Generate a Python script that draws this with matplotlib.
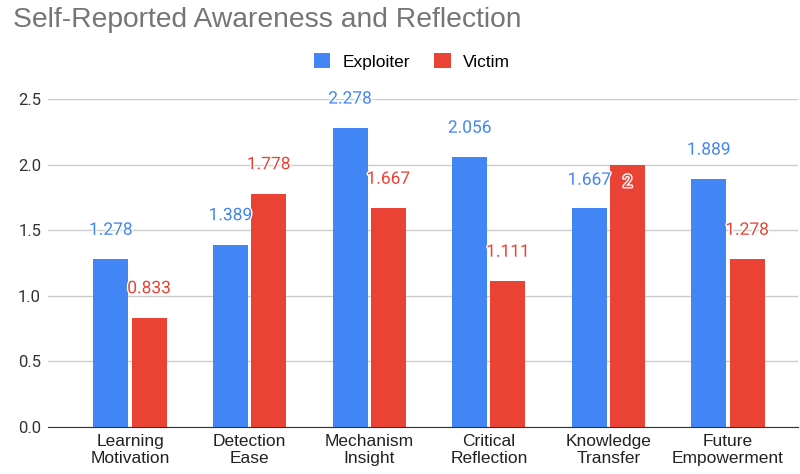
import numpy as np
import matplotlib
matplotlib.use("Agg")
import matplotlib.pyplot as plt
import matplotlib.patheffects as pe

plt.rcParams['font.family'] = ['Liberation Sans', 'DejaVu Sans']

# Data
categories = ['Learning\nMotivation', 'Detection\nEase', 'Mechanism\nInsight',
              'Critical\nReflection', 'Knowledge\nTransfer', 'Future\nEmpowerment']
exploiter = [1.278, 1.389, 2.278, 2.056, 1.667, 1.889]
victim = [0.833, 1.778, 1.667, 1.111, 2, 1.278]
series_names = ['Exploiter', 'Victim']

BLUE = '#4285f4'
RED = '#ea4335'

# label offsets in pixels above bar top (Sheets moves colliding ones)
exploiter_off = [29, 29, 29, 29, 28, 29]
victim_off = [29, 29, 29, 29, -18, 29]

fig = plt.figure(figsize=(8, 4.74), dpi=100)
ax = fig.add_axes([0.06, 0.0992, 0.9375, 0.692])

x = np.arange(len(categories))
w = 0.293
shift = 0.16
b1 = ax.bar(x - shift, exploiter, w, color=BLUE, label=series_names[0], zorder=3)
b2 = ax.bar(x + shift, victim, w, color=RED, label=series_names[1], zorder=3)

halo = [pe.withStroke(linewidth=2, foreground='white')]
for bars, vals, offs, col in [(b1, exploiter, exploiter_off, BLUE), (b2, victim, victim_off, RED)]:
    for rect, v, o in zip(bars, vals, offs):
        txt = f'{v:g}'
        ax.annotate(txt, (rect.get_x() + rect.get_width() / 2, v),
                    xytext=(0, o), textcoords='offset pixels',
                    ha='center', va='center', fontsize=12.5, color=col,
                    family='Roboto', path_effects=halo, zorder=4)

ax.set_xlim(-0.686, 5.585)
ax.set_ylim(0, 2.5)
ax.set_yticks([0, 0.5, 1.0, 1.5, 2.0, 2.5])
ax.set_yticklabels(['0.0', '0.5', '1.0', '1.5', '2.0', '2.5'], family='Roboto')
ax.set_xticks(x)
ax.set_xticklabels(categories, fontsize=12.5, color='#222222', linespacing=1.2)
ax.tick_params(axis='y', length=0, labelsize=12, labelcolor='#333333', pad=5)
ax.tick_params(axis='x', length=0, pad=5)
ax.grid(axis='y', color='#cccccc', linewidth=1, zorder=0)
for s in ['top', 'right', 'left']:
    ax.spines[s].set_visible(False)
ax.spines['bottom'].set_color('#333333')
ax.spines['bottom'].set_zorder(5)

fig.text(0.016, 0.943, 'Self-Reported Awareness and Reflection', fontsize=20.3,
         color='#757575', ha='left', va='baseline')

fig.legend(loc='center', bbox_to_anchor=(0.515, 0.870), ncol=2, frameon=False,
           fontsize=12.5, handlelength=0.95, handleheight=0.95, handletextpad=0.7,
           columnspacing=1.4)

fig.savefig('out.png', dpi=100)
